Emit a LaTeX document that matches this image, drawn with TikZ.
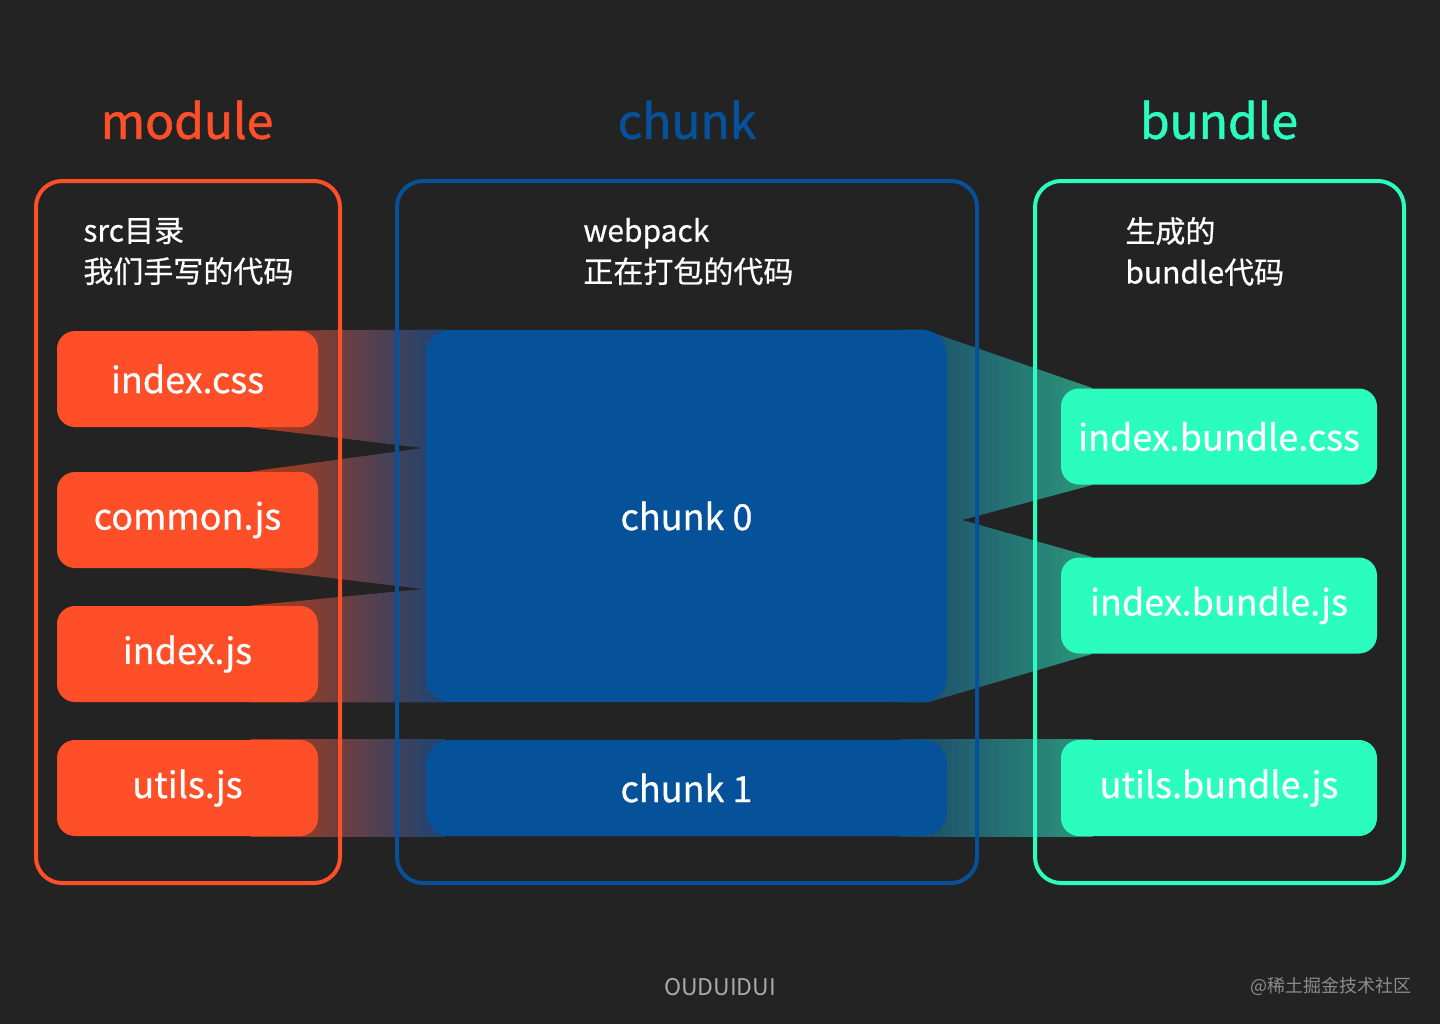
\documentclass[tikz,border=0pt]{standalone}
\usepackage{fontspec}
\setmainfont{Noto Sans CJK SC}
\newfontfamily\headfont{Noto Sans CJK SC}[FakeBold=1.2]
\newfontfamily\medfont{Noto Sans CJK SC}[FakeBold=0.6]
\usepackage{xcolor}
\usepackage{tikz}
\usetikzlibrary{calc}

\definecolor{bgdark}{HTML}{232323}
\definecolor{modorange}{HTML}{FF4F28}
\definecolor{chunkblue}{HTML}{05529A}
\definecolor{bundlegreen}{HTML}{2BFDBF}
\definecolor{leftband}{HTML}{B83A10}
\definecolor{midband}{HTML}{194475}
\definecolor{bluefade}{HTML}{1D466A}
\definecolor{greenfade}{HTML}{2C977B}
\definecolor{footgray}{HTML}{A8A8A8}
\definecolor{markgray}{HTML}{8C8C8C}

\pgfdeclarelayer{canvas}
\pgfdeclarelayer{bands}
\pgfsetlayers{canvas,bands,main}

\begin{document}
\begin{tikzpicture}[x=0.5pt, y=-0.5pt,
		box/.style={rounded corners=9pt, minimum width=130.5pt, minimum height=48pt, inner sep=0pt, text=white, font=\medfont\fontsize{18}{21}\selectfont},
		modbox/.style={box, fill=modorange},
		chunkbox/.style={box, fill=chunkblue, minimum width=260.5pt, rounded corners=12pt},
		bundlebox/.style={box, fill=bundlegreen, minimum width=158pt},
		frame/.style={draw=#1, line width=2pt, rounded corners=13pt, inner sep=0pt},
		heading/.style={text=#1, font=\headfont\fontsize{24}{28}\selectfont},
		subheading/.style={text=white, align=left, anchor=west, inner sep=0pt, font=\medfont\fontsize{15}{20.5}\selectfont},
	]
			\def\W{1440};
			\def\H{1024};

			\begin{pgfonlayer}{canvas}
				\fill[bgdark] (0,0) rectangle (\W,\H);
			\end{pgfonlayer}
			\useasboundingbox (0,0) rectangle (\W,\H);

			\begin{scope}
				\node [heading=modorange] (modtitle) at (187,120) {module};
				\node [heading=chunkblue] (chunktitle) at (687,120) {chunk};
				\node [heading=bundlegreen] (bundletitle) at (1219,120) {bundle};
			\end{scope}

			\begin{scope}
				\node [frame=modorange, minimum width=152pt, minimum height=351pt] (modframe) at (188,532) {};
				\node [frame=chunkblue, minimum width=290pt, minimum height=351pt] (chunkframe) at (687,532) {};
				\node [frame=bundlegreen, minimum width=184.5pt, minimum height=351pt] (bundleframe) at (1219.5,532) {};

				\node [subheading] (modsub) at (83,251.5) {src目录\\我们手写的代码};
				\node [subheading] (chunksub) at (583,251.5) {webpack\\正在打包的代码};
				\node [subheading] (bundlesub) at (1125,251.5) {生成的\\bundle代码};
			\end{scope}

			\begin{scope}
				\node [modbox] (idxcss) at (187.5,379) {index.css};
				\node [modbox] (cmjs) at (187.5,520) {common.js};
				\node [modbox] (idxjs) at (187.5,654) {index.js};
				\node [modbox] (utils) at (187.5,788) {utils.js};

				\node [chunkbox, minimum height=186pt] (chunk0) at (686.5,516) {chunk 0};
				\node [chunkbox] (chunk1) at (686.5,788) {chunk 1};

				\node [bundlebox] (cssb) at (1219,436.5) {index.bundle.css};
				\node [bundlebox] (jsb) at (1219,605.5) {index.bundle.js};
				\node [bundlebox] (utilsb) at (1219,788) {utils.bundle.js};

				\coordinate (tipA) at (423,448);
				\coordinate (tipB) at (423,589);
				\coordinate (tipC) at (962,520);
			\end{scope}

			\begin{pgfonlayer}{bands}
				\begin{scope}[left color=leftband, right color=midband]
					\shade ($(idxcss.north east)+(-68,0)$) -- ($(chunk0.north west)+(20,0)$) -- ($(tipA)+(23,0)$) -- (tipA) -- ($(idxcss.south east)+(-68,0)$) -- cycle;
					\shade ($(cmjs.north east)+(-68,0)$) -- (tipA) -- ($(tipA)+(23,0)$) -- ($(tipB)+(23,0)$) -- (tipB) -- ($(cmjs.south east)+(-68,0)$) -- cycle;
					\shade ($(idxjs.north east)+(-68,0)$) -- (tipB) -- ($(tipB)+(23,0)$) -- ($(chunk0.south west)+(20,0)$) -- ($(idxjs.south east)+(-68,0)$) -- cycle;
					\shade ($(utils.north east)+(-68,0)$) rectangle ($(chunk1.south west)+(20,0)$);
				\end{scope}

				\begin{scope}[left color=bluefade, right color=greenfade]
					\shade ($(chunk0.north east)+(-24,0)$) -- ($(cssb.north west)+(32,0)$) -- ($(cssb.south west)+(32,0)$) -- (tipC) -- ($(tipC)+(-62,0)$) -- ($(chunk0.north east)+(-47,0)$) -- cycle;
					\shade (tipC) -- ($(jsb.north west)+(32,0)$) -- ($(jsb.south west)+(32,0)$) -- ($(chunk0.south east)+(-20,0)$) -- ($(chunk0.south east)+(-47,0)$) -- ($(tipC)+(-62,0)$) -- cycle;
					\shade ($(chunk1.north east)+(-47,0)$) rectangle ($(utilsb.south west)+(32,0)$);
				\end{scope}
			\end{pgfonlayer}

			\begin{scope}
				\node [text=footgray, font=\fontsize{11.5}{14}\selectfont] (author) at (720,987) {OUDUIDUI};
				\node [text=markgray, anchor=east, inner sep=0pt, font=\fontsize{9}{11}\selectfont] (mark) at (1412,986) {@稀土掘金技术社区};
			\end{scope}
		\end{tikzpicture}
\end{document}
